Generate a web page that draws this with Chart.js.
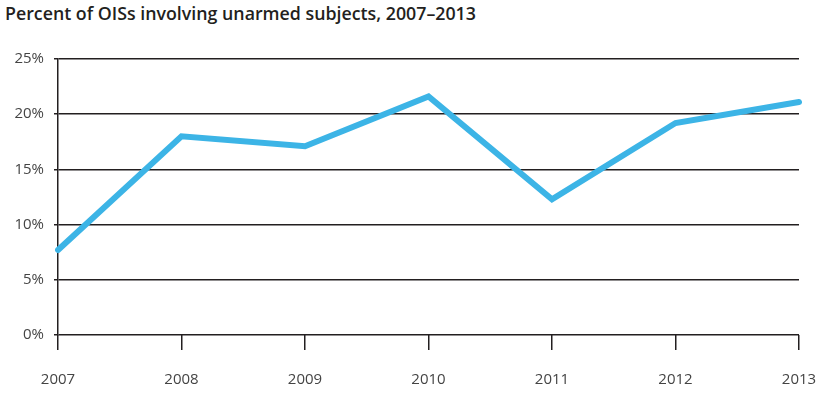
<!DOCTYPE html>
<html>
<head>
<meta charset="utf-8">
<script src="https://cdn.jsdelivr.net/npm/chart.js@4/dist/chart.umd.min.js"></script>
<style>
    html, body { margin: 0; padding: 0; background: #fff; }
    #wrap { position: relative; width: 826px; height: 396px; }
    #title {
        position: absolute; left: 5px; top: 1px;
        font-family: "Open Sans", sans-serif; font-weight: 600; font-size: 17.8px;
        color: #231f20; white-space: nowrap;
    }
    canvas { position: absolute; left: 0; top: 0; }
</style>
</head>
<body>
<div id="wrap">
    <div id="title">Percent of OISs involving unarmed subjects, 2007–2013</div>
    <canvas id="oisChart" width="826" height="396"></canvas>
</div>
<script>
    // Data
    const years = ['2007', '2008', '2009', '2010', '2011', '2012', '2013'];
    const unarmedPct = [7.7, 18.0, 17.1, 21.6, 12.3, 19.2, 21.1];
    const yTicks = [0, 5, 10, 15, 20, 25];

    const axisColor = '#231f20';
    const labelFont = { family: '"Open Sans", sans-serif', size: 15 };

    const ctx = document.getElementById('oisChart');
    new Chart(ctx, {
        type: 'line',
        data: {
            labels: years,
            datasets: [{
                label: 'Unarmed subjects',
                data: unarmedPct,
                borderColor: '#3cb4e6',
                borderWidth: 6,
                borderCapStyle: 'round',
                borderJoinStyle: 'miter',
                pointRadius: 0,
                tension: 0,
                fill: false
            }]
        },
        options: {
            responsive: false,
            animation: false,
            layout: { padding: { top: 59, right: 27, left: 0, bottom: 0 } },
            plugins: {
                legend: { display: false },
                tooltip: { enabled: false }
            },
            scales: {
                x: {
                    offset: false,
                    border: { display: false },
                    grid: {
                        drawOnChartArea: false,
                        drawTicks: true,
                        tickLength: 15,
                        color: axisColor,
                        lineWidth: 1.5
                    },
                    ticks: {
                        padding: 21,
                        color: '#444',
                        font: labelFont,
                        maxRotation: 0
                    },
                    afterFit: scale => {
                        scale.height = 61;
                        // keep the last year on the right edge of the grid
                        scale.paddingRight = 0;
                        scale.paddingLeft = 0;
                    }
                },
                y: {
                    min: 0,
                    max: 25,
                    border: { display: true, color: axisColor, width: 1.5 },
                    grid: {
                        color: axisColor,
                        lineWidth: 1.5,
                        tickLength: 4
                    },
                    afterBuildTicks: scale => {
                        scale.ticks = yTicks.map(v => ({ value: v }));
                    },
                    ticks: {
                        padding: 10,
                        color: '#444',
                        font: labelFont,
                        callback: v => v + '%'
                    },
                    afterFit: scale => { scale.width = 58; }
                }
            }
        }
    });
</script>
</body>
</html>
